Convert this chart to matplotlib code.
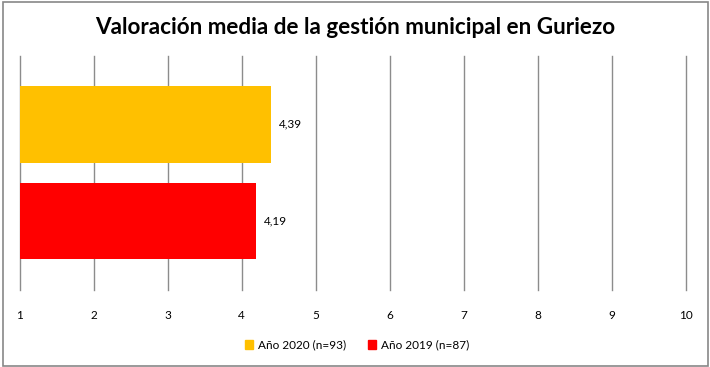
import matplotlib.pyplot as plt
from matplotlib.patches import Rectangle

plt.rcParams['font.family'] = ['Lato', 'DejaVu Sans']

# data
series = ['Año 2020 (n=93)', 'Año 2019 (n=87)']
values = [4.39, 4.19]
value_labels = ['4,39', '4,19']
colors = ['#FFC000', '#FF0000']
ticks = [1, 2, 3, 4, 5, 6, 7, 8, 9, 10]

W, H = 710, 367
fig = plt.figure(figsize=(W / 100, H / 100), dpi=100)

# outer frame of the chart
fig.patches.append(Rectangle((2.5 / W, 1.5 / H), 705.5 / W, 363.5 / H,
                             transform=fig.transFigure, fill=False,
                             edgecolor='#878787', linewidth=1.2))

ax = fig.add_axes([19.7 / W, 1 - 289.5 / H, 666 / W, 233.5 / H])

pos = list(range(len(values)))
ax.barh(pos, [v - 1 for v in values], left=1, height=0.79, color=colors,
        zorder=3)
for p, v, lab in zip(pos, values, value_labels):
    ax.text(v + 0.11, p, lab, va='center', ha='left', fontsize=8.5,
            color='#000000')

ax.set_xlim(1, 10)
ax.set_ylim(1.706, -0.706)
ax.set_xticks(ticks)
ax.set_xticklabels([str(t) for t in ticks], fontsize=8.5)
ax.set_yticks([])
ax.grid(axis='x', color='#8c8c8c', linewidth=1.0, zorder=0)
for gl in ax.get_xgridlines():
    gl.set_clip_on(False)
ax.tick_params(axis='x', length=0, pad=15)
for s in ax.spines.values():
    s.set_visible(False)

fig.text(355 / W, 1 - 28 / H,
         'Valoración media de la gestión municipal en Guriezo',
         ha='center', va='center', fontsize=16.2, fontweight='bold')

handles = [Rectangle((0, 0), 1, 1, color=c) for c in colors]
fig.legend(handles, series, loc='center', bbox_to_anchor=(357 / W, 1 - 345 / H),
           ncol=2, frameon=False, fontsize=8.5, handlelength=0.75,
           handleheight=0.75, handletextpad=0.4, columnspacing=1.8)

fig.savefig('out.png', dpi=100)
